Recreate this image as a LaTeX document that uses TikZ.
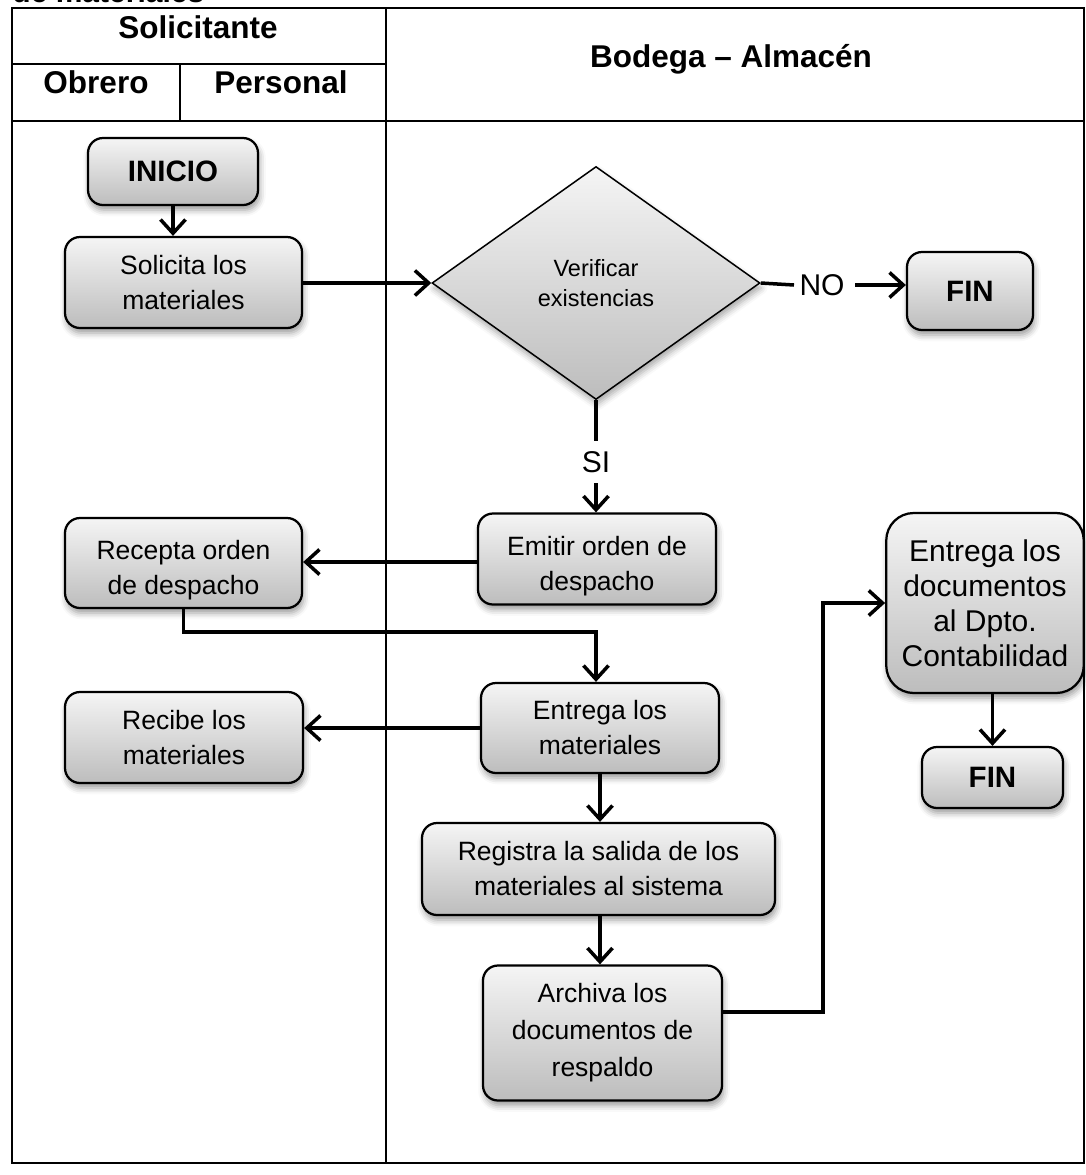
\documentclass[tikz,border=0pt]{standalone}
\usepackage{fontspec}
\setmainfont{Liberation Sans}
\usetikzlibrary{shapes.geometric,arrows.meta,shadows.blur}
\newcommand{\lowstrut}{\rule{0pt}{13pt}}
\begin{document}
\begin{tikzpicture}[x=0.4pt,y=-0.4pt,
  flowbox/.style={draw=black, line width=0.9pt, rounded corners=6pt,
    top color=black!4, bottom color=black!26,
    blur shadow={shadow xshift=0.6pt,shadow yshift=-2pt,shadow blur radius=2.5pt,shadow opacity=40},
    align=center, inner sep=0pt, font=\fontsize{10.6}{14}\selectfont},
  decision/.style={diamond, draw=black, line width=0.6pt,
    top color=black!4, bottom color=black!26,
    blur shadow={shadow xshift=0.6pt,shadow yshift=-2pt,shadow blur radius=2.5pt,shadow opacity=35},
    align=center, inner sep=0pt, font=\fontsize{9.4}{12}\selectfont},
  lbl/.style={inner xsep=2pt, inner ysep=4pt, font=\fontsize{12}{14}\selectfont},
  hdr/.style={anchor=base, inner sep=0pt, font=\fontsize{12.6}{14}\selectfont\bfseries},
  bold/.style={font=\fontsize{11.8}{14}\selectfont\bfseries},
  conn/.style={line width=1.4pt},
  arr/.style={-{Straight Barb[length=5.5pt,width=10pt]}},
  grid/.style={line width=0.8pt},
  frame/.style={line width=1.1pt}
]
\useasboundingbox (0,0) rectangle (1086,1175);

% caption cut off by the top edge, as in the reference
\begin{scope}
  \clip (0,0) rectangle (1086,1175);
  \node[anchor=base west, inner sep=0pt, font=\fontsize{12}{14}\selectfont\bfseries] (caption) at (12,2) {de materiales};
\end{scope}

% table
\draw[grid] (12,64) -- (386,64);
\draw[grid] (12,121) -- (1084,121);
\draw[grid] (180,64) -- (180,121);
\draw[grid] (386,8) -- (386,1163);
\draw[frame] (12,8) rectangle (1084,1163);

\node[hdr] (hsol) at (198,38) {Solicitante};
\node[hdr] (hobr) at (96,93) {Obrero};
\node[hdr] (hper) at (281,93) {Personal};
\node[hdr] (hbod) at (731,67) {Bodega – Almacén};

% nodes
\node[flowbox, bold, minimum width=68pt, minimum height=26.8pt] (inicio) at (173,171.5) {INICIO};
\node[flowbox, minimum width=94.8pt, minimum height=36.4pt] (solic) at (183.5,282.5) {Solicita los\\materiales};
\node[decision, minimum width=131.2pt, minimum height=93.2pt] (dec) at (596,283) {Verificar\\existencias};
\node[flowbox, bold, minimum width=50.4pt, minimum height=31.2pt] (fin1) at (970,291) {FIN};
\node[flowbox, minimum width=95.2pt, minimum height=36.4pt] (emit) at (597,559) {\lowstrut Emitir orden de\\despacho};
\node[flowbox, minimum width=94.8pt, minimum height=36pt] (recep) at (183.5,563) {\lowstrut Recepta orden\\de despacho};
\node[flowbox, minimum width=95.2pt, minimum height=36pt] (entm) at (600,728) {Entrega los\\materiales};
\node[flowbox, minimum width=95.2pt, minimum height=36.4pt] (recib) at (184,737.5) {Recibe los\\materiales};
\node[flowbox, minimum width=141.2pt, minimum height=36.8pt] (reg) at (598.5,869) {Registra la salida de los\\materiales al sistema};
\node[flowbox, minimum width=95.6pt, minimum height=54pt, font=\fontsize{10.6}{14.8}\selectfont] (arch) at (602.5,1033) {Archiva los\\documentos de\\respaldo};
\node[flowbox, rounded corners=11pt, minimum width=79pt, minimum height=72pt, font=\fontsize{12}{14}\selectfont] (docs) at (985,603) {Entrega los\\documentos\\al Dpto.\\Contabilidad};
\node[flowbox, bold, minimum width=56.4pt, minimum height=24.4pt] (fin2) at (992.5,777.5) {FIN};

% labels on connectors
\node[lbl] (no) at (822,285) {NO};
\node[lbl] (si) at (596,462) {SI};

% connectors
\draw[conn,arr] (inicio.south) -- (solic.north -| inicio.south);
\draw[conn,arr] (solic.east |- dec.west) -- (dec.west);
\draw[conn] (dec.east) -- (no.west);
\draw[conn,arr,shorten <=2pt] (no.east) -- (fin1.west |- no.east);
\draw[conn] (dec.south) -- (si.north);
\draw[conn,arr] (si.south) -- (emit.north -| si.south);
\draw[conn,arr] ([yshift=-1.2pt]emit.west) -- ([yshift=-1.2pt]emit.west -| recep.east);
\draw[conn,arr] (recep.south) -- ++(0,23) -| ([xshift=-1.6pt]entm.north);
\draw[conn,arr] (entm.west) -- (entm.west -| recib.east);
\draw[conn,arr] (entm.south) -- (entm.south |- reg.north);
\draw[conn,arr] (entm.south |- reg.south) -- (entm.south |- arch.north);
\draw[conn,arr] ([yshift=8.4pt]arch.east) -- ++(100,0) |- (docs.west);
\draw[conn,arr] (docs.south -| fin2.north) -- (fin2.north);
\end{tikzpicture}
\end{document}
